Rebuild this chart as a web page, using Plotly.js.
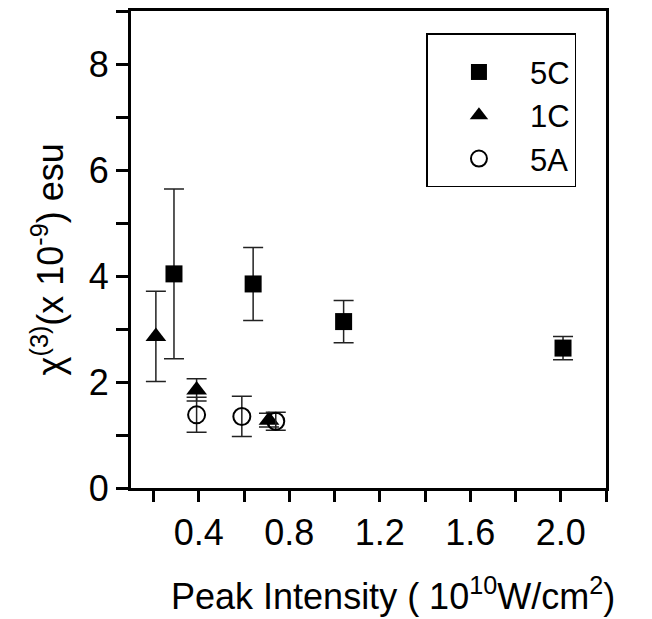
<!DOCTYPE html>
<html>
<head>
<meta charset="utf-8">
<script src="https://cdn.plot.ly/plotly-3.0.1.min.js"></script>
<style>html,body{margin:0;padding:0;background:#fff;}#chart{width:652px;height:619px;}</style>
</head>
<body>
<div id="chart"></div>
<script>
// Series names
const seriesNames = ["5C", "1C", "5A"];
// 5C (filled squares)
const x5C = [0.29, 0.64, 1.04, 2.01];
const y5C = [4.04, 3.85, 3.14, 2.64];
const e5C = [1.60, 0.69, 0.40, 0.22];
// 1C (filled triangles)
const x1C = [0.21, 0.39, 0.71];
const y1C = [2.86, 1.85, 1.28];
const e1C = [0.85, 0.21, 0.13];
// 5A (open circles)
const x5A = [0.39, 0.59, 0.74];
const y5A = [1.38, 1.35, 1.26];
const e5A = [0.33, 0.38, 0.17];

const xTitle = "Peak Intensity ( 10<sup>10</sup>W/cm<sup>2</sup>)";
const yTitle = "\u03c7<sup>(3)</sup>(x 10<sup>-9</sup>) esu";

const FONT = "Liberation Sans, Arial, sans-serif";
const xRange = [0.1, 2.2];
const yRange = [0, 9];

function errBar(arr, w) {
  return {type: "data", array: arr, visible: true, color: "#222", thickness: 1.5, width: w};
}

const traces = [
  {x: x5C, y: y5C, name: seriesNames[0], mode: "markers", type: "scatter", legendgroup: "a",
   marker: {symbol: "square", size: 17, color: "#000"}, error_y: errBar(e5C, 10)},
  {x: x1C, y: y1C, name: seriesNames[1], mode: "markers", type: "scatter", legendgroup: "b",
   marker: {symbol: "triangle-up", size: 18, color: "#000"}, error_y: errBar(e1C, 10)},
  {x: x5A, y: y5A, name: seriesNames[2], mode: "markers", type: "scatter", legendgroup: "c",
   marker: {symbol: "circle-open", size: 17, color: "#000", line: {width: 2, color: "#000"}}, error_y: errBar(e5A, 10)}
];

const layout = {
  width: 652, height: 619,
  margin: {l: 131, r: 45.5, t: 11, b: 130.7, pad: 0},
  paper_bgcolor: "#fff", plot_bgcolor: "#fff",
  font: {family: FONT, color: "#000", size: 36},
  showlegend: true,
  legend: {
    x: 0.622, y: 0.953, xanchor: "left", yanchor: "top",
    bordercolor: "#000", borderwidth: 1.5, bgcolor: "#fff",
    font: {family: FONT, size: 31, color: "#000"},
    title: {text: "&nbsp;", font: {size: 8}},
    itemwidth: 92, tracegroupgap: 0, traceorder: "grouped"
  },
  xaxis: {
    range: xRange, showgrid: false, zeroline: false,
    showline: true, linewidth: 3, linecolor: "#000", mirror: true,
    ticks: "outside", ticklen: 11, tickwidth: 3, tickcolor: "#000",
    tick0: 0.4, dtick: 0.4, tickformat: ".1f",
    minor: {dtick: 0.2, tick0: 0.2, ticks: "outside", ticklen: 11, tickwidth: 3, tickcolor: "#000", showgrid: false},
    tickfont: {size: 36, family: FONT}
  },
  yaxis: {
    range: yRange, showgrid: false, zeroline: false,
    showline: true, linewidth: 3, linecolor: "#000", mirror: true,
    ticks: "outside", ticklen: 12, tickwidth: 3, tickcolor: "#000",
    tick0: 0, dtick: 2,
    minor: {dtick: 1, tick0: 0, ticks: "outside", ticklen: 12, tickwidth: 3, tickcolor: "#000", showgrid: false},
    tickfont: {size: 36, family: FONT}
  },
  xaxis2: {
    overlaying: "x", side: "top", anchor: "y", range: xRange,
    showgrid: false, zeroline: false, showline: false, showticklabels: false,
    ticks: "inside", ticklen: 8, tickwidth: 3, tickcolor: "#000",
    tick0: 0.4, dtick: 0.4,
    minor: {dtick: 0.2, tick0: 0.2, ticks: "inside", ticklen: 8, tickwidth: 3, tickcolor: "#000", showgrid: false}
  },
  yaxis2: {
    overlaying: "y", side: "right", anchor: "x", range: yRange,
    showgrid: false, zeroline: false, showline: false, showticklabels: false,
    ticks: "inside", ticklen: 12, tickwidth: 3, tickcolor: "#000",
    tick0: 0, dtick: 2,
    minor: {dtick: 1, tick0: 0, ticks: "inside", ticklen: 12, tickwidth: 3, tickcolor: "#000", showgrid: false}
  },
  annotations: [
    {text: xTitle, xref: "paper", yref: "paper", x: 0.551, y: -0.222, xanchor: "center", yanchor: "middle",
     showarrow: false, font: {family: FONT, size: 36, color: "#000"}},
    {text: yTitle, xref: "paper", yref: "paper", x: -0.174, y: 0.48, xanchor: "center", yanchor: "middle",
     textangle: -90, showarrow: false, font: {family: FONT, size: 36, color: "#000"}}
  ]
};

Plotly.newPlot("chart", traces, layout, {displayModeBar: false, staticPlot: true});
</script>
</body>
</html>
